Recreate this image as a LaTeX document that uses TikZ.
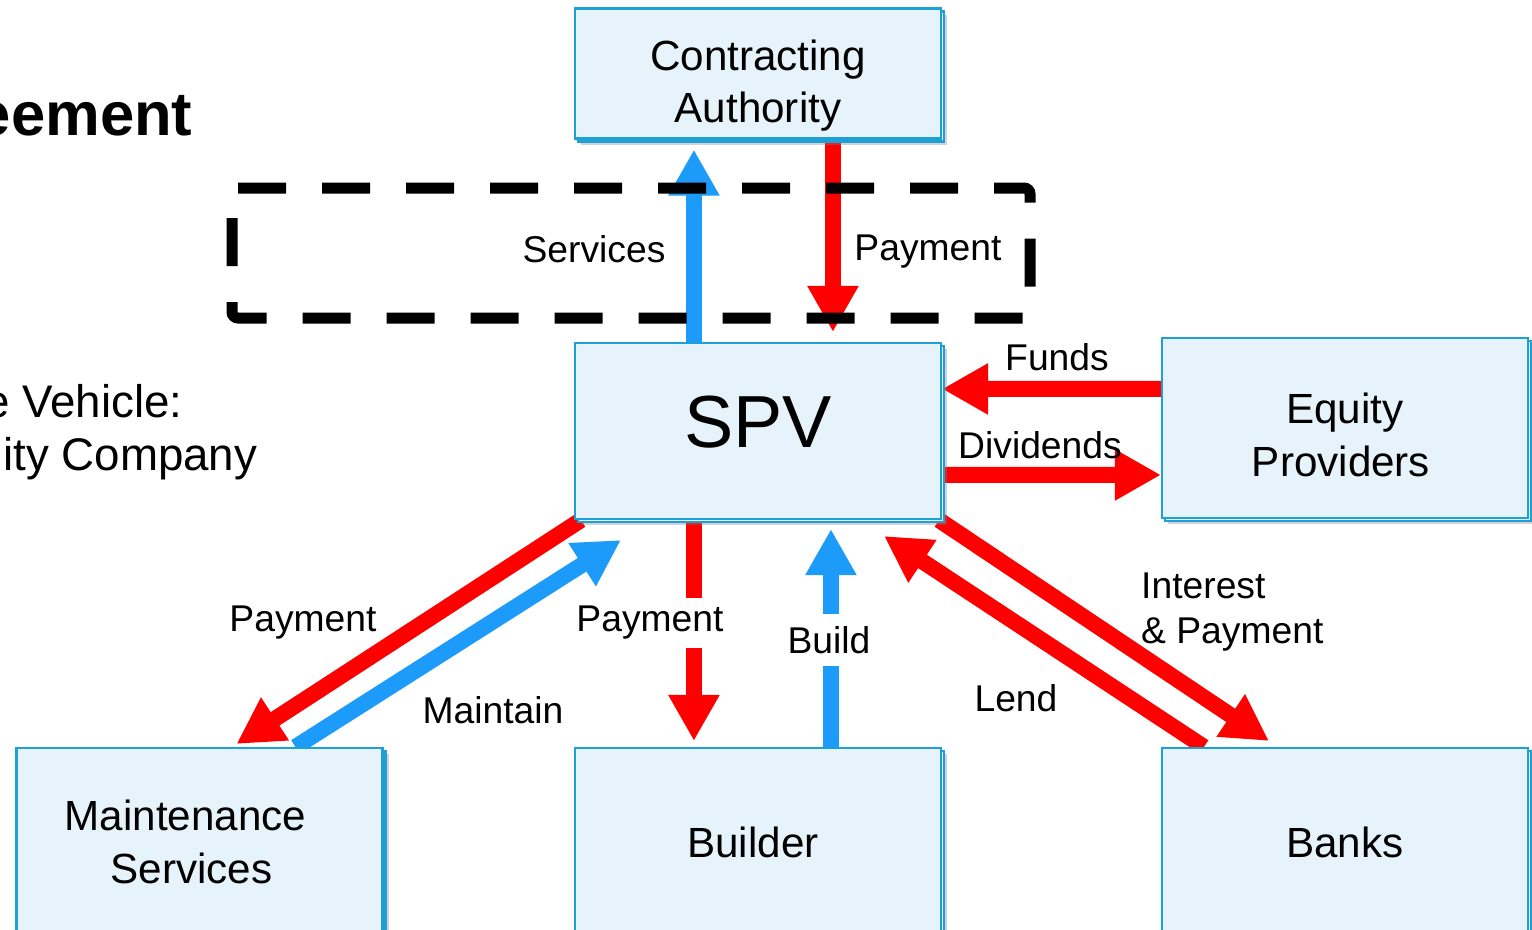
\documentclass[tikz,border=0pt]{standalone}
\usepackage{fontspec}
\setmainfont{Liberation Sans}
\usetikzlibrary{arrows.meta,shadows,backgrounds}

\definecolor{boxfill}{RGB}{230,243,250}
\definecolor{boxline}{RGB}{30,160,215}
\definecolor{flowred}{RGB}{255,0,0}
\definecolor{flowblue}{RGB}{28,155,250}

\begin{document}
\begin{tikzpicture}[
    party/.style={draw=boxline, line width=0.6pt, fill=boxfill, minimum width=3.66cm,
      inner sep=0pt, align=center, font=\fontsize{12}{15}\selectfont,
      drop shadow={shadow xshift=0.06cm, shadow yshift=-0.06cm, opacity=0.35},
      copy shadow={shadow xshift=0.03cm, shadow yshift=-0.03cm}},
    redflow/.style={color=flowred, line width=0.16cm, -{Triangle[length=0.46cm,width=0.48cm]}},
    blueflow/.style={redflow, color=flowblue},
    lbl/.style={font=\fontsize{10.6}{12.8}\selectfont, inner sep=1pt},
    cutoff/.style={anchor=base east, inner sep=0pt, font=\fontsize{13}{16}\selectfont},
  ]
  \useasboundingbox (0,0) rectangle (15.32,-9.29);

  % title text, cut at the left edge
  \node[cutoff, font=\fontsize{17.5}{21}\bfseries\selectfont] (ttl) at (1.93,-1.35) {eement};
  \node[cutoff] (veh1) at (1.83,-4.17) {e Vehicle:};
  \node[cutoff] (veh2) at (2.58,-4.70) {ity Company};

  % parties
  \node[party, minimum height=1.30cm] (ca) at (7.58,-0.735) {\rule{0pt}{15.5pt}Contracting\\Authority};
  \node[party, minimum height=1.76cm, text depth=0.18cm, font=\fontsize{21}{25}\selectfont] (spv) at (7.58,-4.31) {SPV};
  \node[party, minimum height=1.80cm] (eq) at (13.45,-4.28) {\rule{0pt}{12.5pt}Equity\\Providers\hspace*{0.08cm}};
  \node[party, minimum height=1.88cm] (maint) at (1.995,-8.42) {Maintenance\hspace*{0.28cm}\\Services\hspace*{0.16cm}};
  \node[party, minimum height=1.88cm] (builder) at (7.58,-8.42) {Builder\hspace*{0.1cm}};
  \node[party, minimum height=1.88cm] (banks) at (13.45,-8.42) {Banks};

  \begin{pgfonlayer}{background}
    \draw[blueflow, shorten >=0.10cm] ([xshift=1.20cm]spv.north west) -- ([xshift=1.20cm]ca.south west);
    \draw[redflow, shorten >=0.10cm] ([xshift=2.59cm]ca.south west) -- ([xshift=2.59cm]spv.north west);

    \draw[redflow] ([yshift=-0.52cm]eq.north west) -- ([yshift=-0.47cm]spv.north east);
    \draw[redflow] ([yshift=-1.33cm]spv.north east) -- ([yshift=-1.38cm]eq.north west);

    \draw[redflow] ([xshift=0.07cm]spv.south west) -- ([xshift=2.21cm,yshift=0.03cm]maint.north west);
    \draw[blueflow] ([xshift=2.80cm]maint.north west) -- ([xshift=0.47cm,yshift=-0.20cm]spv.south west);

    \draw[redflow, shorten >=0.06cm] ([xshift=1.20cm]spv.south west) -- ([xshift=1.20cm]builder.north west);
    \draw[blueflow, shorten >=0.09cm] ([xshift=2.57cm]builder.north west) -- ([xshift=2.57cm]spv.south west);

    \draw[redflow] ([xshift=0.43cm]banks.north west) -- ([xshift=-0.58cm,yshift=-0.16cm]spv.south east);
    \draw[redflow] ([xshift=-0.03cm]spv.south east) -- ([xshift=1.08cm,yshift=0.06cm]banks.north west);
  \end{pgfonlayer}

  % agreement boundary
  \draw[line width=0.11cm, dash pattern=on 0.48cm off 0.36cm, rounded corners=0.06cm]
    (2.32,-1.88) -- (10.30,-1.88) -- (10.30,-3.18) -- (2.32,-3.18) -- cycle;

  % flow labels
  \node[lbl] (svc) at (5.94,-2.49) {Services};
  \node[lbl] (pay1) at (9.28,-2.52) {Payment};
  \node[lbl] (funds) at (10.57,-3.57) {Funds};
  \node[lbl] (divs) at (10.40,-4.45) {Dividends};
  \node[lbl] (pay2) at (3.03,-6.23) {Payment};
  \node[lbl] (mnt) at (4.93,-7.10) {Maintain};
  \node[lbl, fill=white, inner ysep=2.5pt] (pay3) at (6.50,-6.23) {Payment};
  \node[lbl, fill=white, inner ysep=3.5pt] (bld) at (8.29,-6.40) {Build};
  \node[lbl] (lend) at (10.16,-6.98) {Lend};
  \node[lbl, align=left, anchor=west] (intr) at (11.37,-6.12) {Interest\\\& Payment};
\end{tikzpicture}
\end{document}
